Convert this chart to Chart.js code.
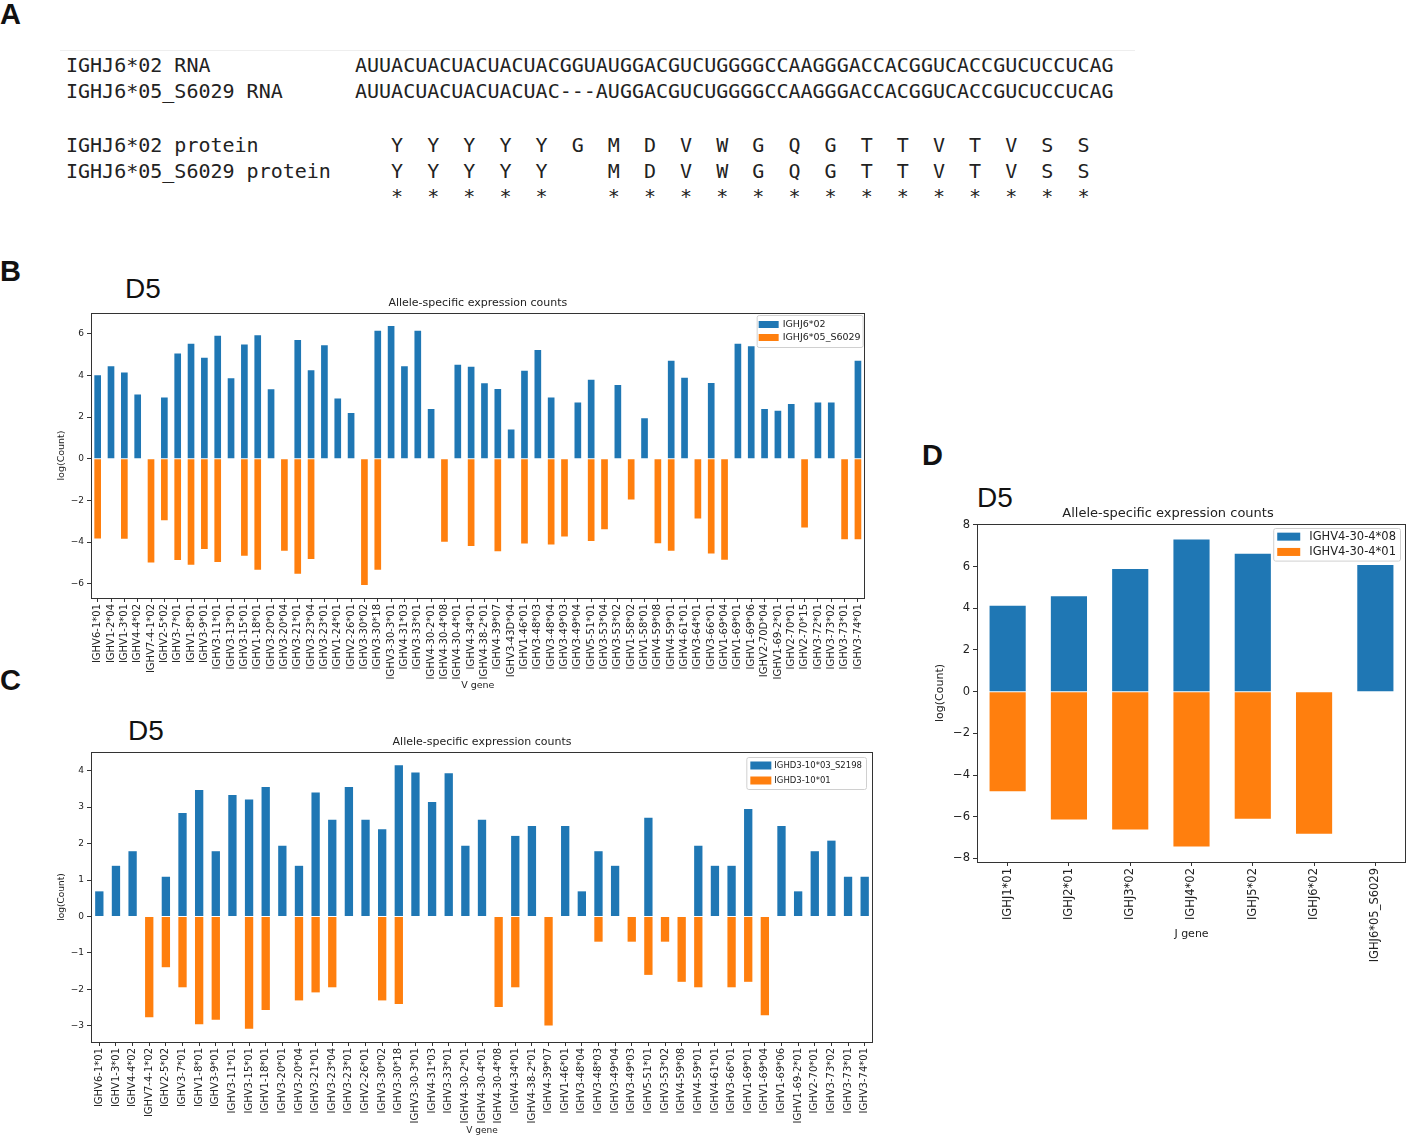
<!DOCTYPE html>
<html>
<head>
<meta charset="utf-8">
<script src="https://cdn.jsdelivr.net/npm/chart.js@4.4.1/dist/chart.umd.min.js"></script>
<style>
body { margin: 0; background: #fff; }
#page { position: relative; width: 1414px; height: 1137px; overflow: hidden; background: #fff; }
.tag { position: absolute; font: bold 29px "Liberation Sans", Arial, sans-serif; line-height: 1; color: #111; }
.d5 { position: absolute; font: 28px "Liberation Sans", Arial, sans-serif; line-height: 1; color: #111; }
.seq { position: absolute; left: 66px; margin: 0; font: 20px "DejaVu Sans Mono", monospace; line-height: 1; color: #222; white-space: pre; }
#rule { position: absolute; left: 60px; top: 50px; width: 1075px; height: 1px; background: #eee; }
canvas { position: absolute; }
</style>
</head>
<body>
<div id="page">
  <div class="tag" style="left:0;top:0">A</div>
  <div class="tag" style="left:0;top:257px">B</div>
  <div class="tag" style="left:0;top:666px">C</div>
  <div class="tag" style="left:922px;top:441px">D</div>
  <div id="rule"></div>
  <div id="seqLines"></div>
  <div class="d5" style="left:125px;top:275px">D5</div>
  <div class="d5" style="left:128px;top:717px">D5</div>
  <div class="d5" style="left:977px;top:484px">D5</div>
  <canvas id="chartB" width="820" height="405" style="left:52px;top:290px"></canvas>
  <canvas id="chartC" width="827" height="411" style="left:52px;top:729px"></canvas>
  <canvas id="chartD" width="484" height="468" style="left:930px;top:500px"></canvas>
</div>
<script>
// panel A: alignment
const rna02 = 'AUUACUACUACUACUACGGUAUGGACGUCUGGGGCCAAGGGACCACGGUCACCGUCUCCUCAG';
const rna05 = 'AUUACUACUACUACUAC---AUGGACGUCUGGGGCCAAGGGACCACGGUCACCGUCUCCUCAG';
const prot02 = ['Y','Y','Y','Y','Y','G','M','D','V','W','G','Q','G','T','T','V','T','V','S','S'];
const prot05 = ['Y','Y','Y','Y','Y',' ','M','D','V','W','G','Q','G','T','T','V','T','V','S','S'];

// panel B: IGHJ6 alleles by V gene
const bGenes = ['IGHV6-1*01','IGHV1-2*04','IGHV1-3*01','IGHV4-4*02','IGHV7-4-1*02','IGHV2-5*02','IGHV3-7*01','IGHV1-8*01','IGHV3-9*01','IGHV3-11*01',
  'IGHV3-13*01','IGHV3-15*01','IGHV1-18*01','IGHV3-20*01','IGHV3-20*04','IGHV3-21*01','IGHV3-23*04','IGHV3-23*01','IGHV1-24*01','IGHV2-26*01',
  'IGHV3-30*02','IGHV3-30*18','IGHV3-30-3*01','IGHV4-31*03','IGHV3-33*01','IGHV4-30-2*01','IGHV4-30-4*08','IGHV4-30-4*01','IGHV4-34*01','IGHV4-38-2*01',
  'IGHV4-39*07','IGHV3-43D*04','IGHV1-46*01','IGHV3-48*03','IGHV3-48*04','IGHV3-49*03','IGHV3-49*04','IGHV5-51*01','IGHV3-53*04','IGHV3-53*02',
  'IGHV1-58*02','IGHV1-58*01','IGHV4-59*08','IGHV4-59*01','IGHV4-61*01','IGHV3-64*01','IGHV3-66*01','IGHV1-69*04','IGHV1-69*01','IGHV1-69*06',
  'IGHV2-70D*04','IGHV1-69-2*01','IGHV2-70*01','IGHV2-70*15','IGHV3-72*01','IGHV3-73*02','IGHV3-73*01','IGHV3-74*01'];
const bIGHJ6_02 = [4.00,4.43,4.14,3.08,null,2.94,5.05,5.51,4.84,5.90,
  3.86,5.48,5.92,3.33,null,5.70,4.24,5.44,2.89,2.19,
  null,6.14,6.37,4.43,6.14,2.38,null,4.51,4.41,3.62,
  3.35,1.40,4.22,5.21,2.94,null,2.70,3.79,null,3.54,
  null,1.94,null,4.70,3.89,null,3.63,null,5.52,5.40,
  2.38,2.30,2.62,null,2.70,2.70,null,4.70];
const bIGHJ6_05 = [-3.83,null,-3.84,null,-4.98,-2.95,-4.86,-5.08,-4.33,-4.95,
  null,-4.65,-5.32,null,-4.41,-5.52,-4.81,null,null,null,
  -6.06,-5.32,null,null,null,null,-3.98,null,-4.19,null,
  -4.44,null,-4.06,null,-4.11,-3.73,null,-3.95,-3.38,null,
  -1.95,null,-4.05,-4.41,null,-2.87,-4.54,-4.84,null,null,
  null,null,null,-3.30,null,null,-3.86,-3.86];

// panel C: IGHD3-10 alleles by V gene
const cGenes = ['IGHV6-1*01','IGHV1-3*01','IGHV4-4*02','IGHV7-4-1*02','IGHV2-5*02','IGHV3-7*01','IGHV1-8*01','IGHV3-9*01','IGHV3-11*01','IGHV3-15*01',
  'IGHV1-18*01','IGHV3-20*01','IGHV3-20*04','IGHV3-21*01','IGHV3-23*04','IGHV3-23*01','IGHV2-26*01','IGHV3-30*02','IGHV3-30*18','IGHV3-30-3*01',
  'IGHV4-31*03','IGHV3-33*01','IGHV4-30-2*01','IGHV4-30-4*01','IGHV4-30-4*08','IGHV4-34*01','IGHV4-38-2*01','IGHV4-39*07','IGHV1-46*01','IGHV3-48*04',
  'IGHV3-48*03','IGHV3-49*04','IGHV3-49*03','IGHV5-51*01','IGHV3-53*02','IGHV4-59*08','IGHV4-59*01','IGHV4-61*01','IGHV3-66*01','IGHV1-69*01',
  'IGHV1-69*04','IGHV1-69*06','IGHV1-69-2*01','IGHV2-70*01','IGHV3-73*02','IGHV3-73*01','IGHV3-74*01'];
const cIGHD3_10_03 = [0.69,1.39,1.79,null,1.09,2.84,3.47,1.79,3.33,3.21,
  3.55,1.94,1.39,3.40,2.65,3.55,2.65,2.39,4.15,3.95,
  3.14,3.93,1.94,2.65,null,2.21,2.48,null,2.48,0.69,
  1.79,1.39,null,2.71,null,null,1.94,1.39,1.39,2.95,
  null,2.48,0.69,1.79,2.08,1.09,1.09];
const cIGHD3_10_01 = [null,null,null,-2.76,-1.39,-1.94,-2.95,-2.83,null,-3.08,
  -2.56,null,-2.30,-2.08,-1.94,null,null,-2.30,-2.40,null,
  null,null,null,null,-2.48,-1.94,null,-2.99,null,null,
  -0.69,null,-0.69,-1.60,-0.69,-1.79,-1.94,null,-1.94,-1.79,
  -2.71,null,null,null,null,null,null];

// panel D: IGHV4-30-4 alleles by J gene
const dGenes = ['IGHJ1*01','IGHJ2*01','IGHJ3*02','IGHJ4*02','IGHJ5*02','IGHJ6*02','IGHJ6*05_S6029'];
const dIGHV4_30_4_08 = [4.12,4.57,5.88,7.30,6.61,null,6.07];
const dIGHV4_30_4_01 = [-4.78,-6.13,-6.61,-7.43,-6.10,-6.82,null];

const BLUE = '#1f77b4';
const ORANGE = '#ff7f0e';

// alignment text
function padTo(s, n) { return s + ' '.repeat(n - s.length); }
const stars = prot02.map((a, i) => a === prot05[i] ? '*' : ' ');
const seqRows = [
  [55, padTo('IGHJ6*02 RNA', 24) + rna02],
  [81, padTo('IGHJ6*05_S6029 RNA', 24) + rna05],
  [135, padTo('IGHJ6*02 protein', 27) + prot02.join('  ')],
  [161, padTo('IGHJ6*05_S6029 protein', 27) + prot05.join('  ')],
  [186, padTo('', 27) + stars.join('  ')]
];
const seqBox = document.getElementById('seqLines');
seqRows.forEach(([top, txt]) => {
  const p = document.createElement('pre');
  p.className = 'seq';
  p.style.top = top + 'px';
  p.textContent = txt;
  seqBox.appendChild(p);
});

Chart.defaults.font.family = '"DejaVu Sans", sans-serif';
Chart.defaults.color = '#222';

// frame round the axes + legend inside top right
const panelDecor = {
  id: 'panelDecor',
  afterDraw(chart, args, o) {
    const ctx = chart.ctx;
    const a = chart.chartArea;
    ctx.save();
    ctx.strokeStyle = '#333';
    ctx.lineWidth = 1;
    ctx.strokeRect(Math.round(a.left) + 0.5, Math.round(a.top) + 0.5, Math.round(a.right - a.left) - 1, Math.round(a.bottom - a.top));

    ctx.font = o.size + 'px "DejaVu Sans", sans-serif';
    const sets = chart.data.datasets;
    const tw = Math.max(...sets.map(d => ctx.measureText(d.label).width));
    const w = o.padX * 2 + o.patchW + o.gap + tw;
    const h = o.padY * 2 + sets.length * o.rowH;
    const x = a.right - o.margin - w;
    const y = a.top + o.marginTop;
    ctx.fillStyle = 'rgba(255,255,255,0.9)';
    ctx.strokeStyle = '#d0d0d0';
    ctx.beginPath();
    ctx.roundRect(x + 0.5, y + 0.5, w, h, 2);
    ctx.fill();
    ctx.stroke();
    ctx.textBaseline = 'middle';
    sets.forEach((d, i) => {
      const cy = y + o.padY + o.rowH * (i + 0.5);
      ctx.fillStyle = d.backgroundColor;
      ctx.fillRect(x + o.padX, cy - o.patchH / 2, o.patchW, o.patchH);
      ctx.fillStyle = '#222';
      ctx.fillText(d.label, x + o.padX + o.patchW + o.gap, cy + 0.5);
    });
    ctx.restore();
  }
};

function alleleChart(id, labels, posLabel, posData, negLabel, negData, g) {
  return new Chart(document.getElementById(id), {
    type: 'bar',
    data: {
      labels: labels,
      datasets: [
        { label: posLabel, data: posData, backgroundColor: BLUE, barPercentage: g.bar, categoryPercentage: 1 },
        { label: negLabel, data: negData, backgroundColor: ORANGE, barPercentage: g.bar, categoryPercentage: 1 }
      ]
    },
    options: {
      responsive: false,
      animation: false,
      events: [],
      layout: { padding: { left: 0, right: g.padRight, top: 0, bottom: g.padBottom } },
      scales: {
        x: {
          stacked: true,
          border: { display: false },
          grid: { offset: false, drawOnChartArea: false, tickLength: 4, color: '#333' },
          ticks: { autoSkip: false, minRotation: 90, maxRotation: 90, padding: 2, font: { size: g.xTick } },
          title: { display: true, text: g.xTitle, font: { size: g.axisTitle }, padding: { top: 4, bottom: g.xTitleBottom } },
          afterFit: s => { s.height = g.xHeight; }
        },
        y: {
          stacked: true,
          min: g.yMin,
          max: g.yMax,
          border: { display: false },
          grid: { drawOnChartArea: false, tickLength: 4, color: '#333' },
          ticks: {
            stepSize: g.step, padding: 3, font: { size: g.yTick },
            callback: v => v < 0 ? '\u2212' + Math.abs(v) : v
          },
          title: { display: true, text: 'log(Count)', font: { size: g.axisTitle }, padding: { top: 4, bottom: 4 } },
          // only whole steps, like matplotlib
          afterBuildTicks: s => {
            const ticks = [];
            for (let v = Math.ceil(g.yMin / g.step) * g.step; v <= g.yMax + 1e-9; v += g.step) ticks.push({ value: v });
            s.ticks = ticks;
          },
          afterFit: s => { s.width = g.yWidth; }
        }
      },
      plugins: {
        legend: { display: false },
        tooltip: { enabled: false },
        title: {
          display: true,
          text: 'Allele-specific expression counts',
          fullSize: g.titleFull,
          font: { size: g.titleSize, weight: 'normal' },
          padding: { top: g.titleTop, bottom: g.titleBottom }
        },
        panelDecor: g.legend
      }
    },
    plugins: [panelDecor]
  });
}

alleleChart('chartB', bGenes, 'IGHJ6*02', bIGHJ6_02, 'IGHJ6*05_S6029', bIGHJ6_05, {
  bar: 0.5, padRight: 6, padBottom: 0, xTick: 10, yTick: 9, axisTitle: 9.5, xTitle: 'V gene', xTitleBottom: 4,
  xHeight: 97, yWidth: 39, yMin: -6.68, yMax: 6.99, step: 2,
  titleFull: false, titleSize: 11, titleTop: 6.4, titleBottom: 3.4,
  legend: { size: 9.5, margin: 2, marginTop: 2, padX: 2, padY: 3, patchW: 20, patchH: 7, gap: 4, rowH: 13 }
});

alleleChart('chartC', cGenes, 'IGHD3-10*03_S2198', cIGHD3_10_03, 'IGHD3-10*01', cIGHD3_10_01, {
  bar: 0.5, padRight: 6, padBottom: 0, xTick: 10, yTick: 9, axisTitle: 9, xTitle: 'V gene', xTitleBottom: 4,
  xHeight: 98, yWidth: 39, yMin: -3.44, yMax: 4.51, step: 1,
  titleFull: false, titleSize: 11, titleTop: 6.4, titleBottom: 3.4,
  legend: { size: 8.5, margin: 7, marginTop: 5, padX: 4, padY: 1, patchW: 21, patchH: 8, gap: 3, rowH: 15 }
});

alleleChart('chartD', dGenes, 'IGHV4-30-4*08', dIGHV4_30_4_08, 'IGHV4-30-4*01', dIGHV4_30_4_01, {
  bar: 0.59, padRight: 8, padBottom: 4, xTick: 11.5, yTick: 11.5, axisTitle: 11, xTitle: 'J gene', xTitleBottom: 23.4,
  xHeight: 102, yWidth: 47, yMin: -8.17, yMax: 8.04, step: 2,
  titleFull: true, titleSize: 13, titleTop: 6.2, titleBottom: 2.2,
  legend: { size: 11.5, margin: 6, marginTop: 4, padX: 4, padY: 1, patchW: 23, patchH: 8, gap: 9, rowH: 15.3 }
});
</script>
</body>
</html>
